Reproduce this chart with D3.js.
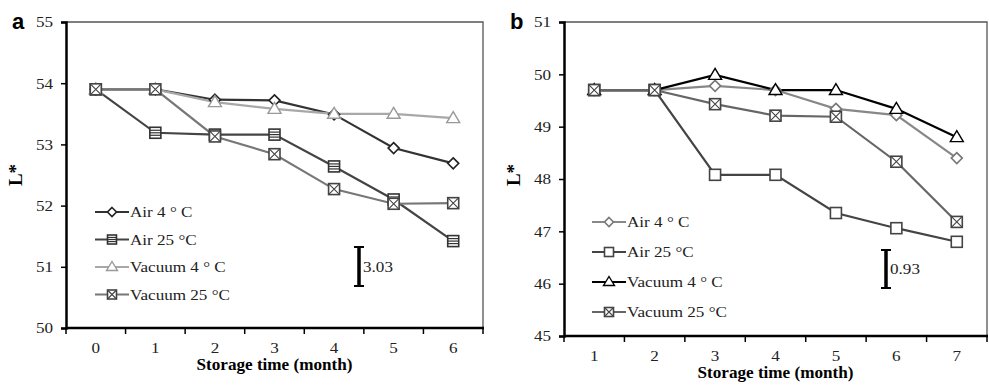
<!DOCTYPE html>
<html lang="en">
<head>
  <meta charset="utf-8">
  <title>L* vs storage time</title>
  <script src="https://d3js.org/d3.v7.min.js"></script>
  <style>
  body { margin: 0; background: #fff; }
  text { font-family: "Liberation Serif", "Times New Roman", serif; }
  text.letter { font-family: "Liberation Sans", Arial, sans-serif; }
  </style>
</head>
<body>
<script>
  // panel a: months 0..6
  var monthsA = ['0', '1', '2', '3', '4', '5', '6'];
  var air4A = [53.9, 53.9, 53.73, 53.72, 53.49, 52.94, 52.69];
  var air25A = [53.9, 53.19, 53.16, 53.16, 52.64, 52.1, 51.42];
  var vac4A = [53.9, 53.9, 53.69, 53.58, 53.5, 53.5, 53.43];
  var vac25A = [53.9, 53.9, 53.13, 52.84, 52.27, 52.03, 52.04];
  var yTicksA = [50, 51, 52, 53, 54, 55];

  // panel b: months 1..7
  var monthsB = ['1', '2', '3', '4', '5', '6', '7'];
  var air4B = [49.7, 49.7, 49.78, 49.7, 49.34, 49.22, 48.4];
  var air25B = [49.7, 49.7, 48.08, 48.08, 47.35, 47.06, 46.8];
  var vac4B = [49.7, 49.7, 49.99, 49.7, 49.7, 49.34, 48.8];
  var vac25B = [49.7, 49.7, 49.43, 49.21, 49.19, 48.33, 47.18];
  var yTicksB = [45, 46, 47, 48, 49, 50, 51];

  var seriesNames = ['Air 4 \u00b0 C', 'Air 25 \u00b0C', 'Vacuum 4 \u00b0 C', 'Vacuum 25 \u00b0C'];

  var svg = d3.select('body').append('svg')
    .attr('width', 989)
    .attr('height', 387);

  // the source figure is a little wider than tall, so widen the glyphs
  function stretch(sel, k) {
    sel.each(function() {
      var w = this.getComputedTextLength();
      d3.select(this).attr('textLength', w * k).attr('lengthAdjust', 'spacingAndGlyphs');
    });
  }

  // draws one marker of a given kind at 0,0 inside g
  function marker(g, kind, color, s) {
    if (kind == 'diamond') {
      g.append('path').attr('d', 'M0,' + (-s) + 'L' + s + ',0L0,' + s + 'L' + (-s) + ',0Z')
        .attr('fill', '#fff').attr('stroke', color).attr('stroke-width', 1.6);
    } else if (kind == 'triangle') {
      g.append('path').attr('d', 'M0,' + (-s - 1) + 'L' + (s + 1) + ',' + (s - 1) + 'L' + (-s - 1) + ',' + (s - 1) + 'Z')
        .attr('fill', '#fff').attr('stroke', color).attr('stroke-width', 1.4);
    } else {
      g.append('rect').attr('x', -s).attr('y', -s).attr('width', 2 * s).attr('height', 2 * s)
        .attr('fill', '#fff').attr('stroke', color).attr('stroke-width', 1.6);
      if (kind == 'lines') {
        [-s / 2.2, 0, s / 2.2].forEach(function(d) {
          g.append('line').attr('x1', -s).attr('x2', s).attr('y1', d).attr('y2', d)
            .attr('stroke', color).attr('stroke-width', 1.2);
        });
      } else if (kind == 'cross') {
        g.append('path').attr('d', 'M' + (-s) + ',' + (-s) + 'L' + s + ',' + s + 'M' + s + ',' + (-s) + 'L' + (-s) + ',' + s)
          .attr('stroke', color).attr('stroke-width', 1.1);
      }
    }
  }

  function drawPanel(p) {
    var x = d3.scaleBand().domain(p.months).range([p.left, p.right]);
    var y = d3.scaleLinear().domain([p.yTicks[0], p.yTicks[p.yTicks.length - 1]]).range([p.bottom, p.top]);
    var g = svg.append('g');

    // top and right frame
    g.append('path')
      .attr('d', 'M' + p.left + ',' + p.top + 'H' + p.right + 'V' + p.bottom)
      .attr('fill', 'none').attr('stroke', '#555').attr('stroke-width', 1.3);

    // y axis
    var yAxis = d3.axisLeft(y).tickValues(p.yTicks).tickSize(5).tickPadding(8).tickFormat(d3.format('d'));
    var ya = g.append('g').attr('transform', 'translate(' + p.left + ',0)').call(yAxis);
    ya.select('.domain').attr('stroke', '#000').attr('stroke-width', 2.5);
    ya.selectAll('.tick line').attr('stroke', '#000').attr('stroke-width', 1.5);
    ya.selectAll('.tick text').attr('font-size', 15).attr('fill', '#222').call(stretch, 1.14);

    // x axis: ticks sit on band edges, labels at band centres
    var xa = g.append('g').attr('transform', 'translate(0,' + p.bottom + ')');
    xa.append('line').attr('x1', p.left).attr('x2', p.right + 1)
      .attr('stroke', '#000').attr('stroke-width', 2.5);
    var edges = p.months.map(function(m) { return x(m); }).concat([p.right]);
    xa.selectAll('.xt').data(edges).enter().append('line')
      .attr('x1', function(d) { return d; }).attr('x2', function(d) { return d; })
      .attr('y1', 0).attr('y2', 6).attr('stroke', '#000').attr('stroke-width', 1.5);
    xa.selectAll('.xl').data(p.months).enter().append('text')
      .attr('x', function(d) { return x(d) + x.bandwidth() / 2; })
      .attr('y', 25).attr('text-anchor', 'middle').attr('font-size', 15).attr('fill', '#222')
      .text(function(d) { return d; })
      .call(stretch, 1.14);

    // titles
    g.append('text').attr('x', (p.left + p.right) / 2).attr('y', p.bottom + p.xTitleDy)
      .attr('text-anchor', 'middle').attr('font-size', 16).attr('font-weight', 'bold')
      .text('Storage time (month)')
      .call(stretch, 1.07);
    g.append('text').attr('transform', 'translate(' + (p.left - 44) + ',' + p.labelY + ') rotate(-90)')
      .attr('text-anchor', 'middle').attr('font-size', 19).attr('font-weight', 'bold')
      .text('L*');
    g.append('text').attr('class', 'letter').attr('x', p.left - 54).attr('y', p.top + 7)
      .attr('font-size', 22).attr('font-weight', 'bold')
      .text(p.letter);

    // series
    var line = d3.line()
      .x(function(d, i) { return x(p.months[i]) + x.bandwidth() / 2; })
      .y(function(d) { return y(d); });
    p.series.forEach(function(s) {
      g.append('path').datum(s.values).attr('d', line)
        .attr('fill', 'none').attr('stroke', s.color).attr('stroke-width', 2.2);
    });
    p.series.forEach(function(s) {
      s.values.forEach(function(v, i) {
        var m = g.append('g').attr('transform', 'translate(' + (x(p.months[i]) + x.bandwidth() / 2) + ',' + y(v) + ')');
        marker(m, s.kind, s.markColor, 5.5);
      });
    });

    // legend
    p.series.forEach(function(s, i) {
      var ly = p.legendY + i * p.legendStep;
      var lg = g.append('g');
      lg.append('line').attr('x1', p.legendX).attr('x2', p.legendX + 34).attr('y1', ly).attr('y2', ly)
        .attr('stroke', s.color).attr('stroke-width', 2.2);
      var m = lg.append('g').attr('transform', 'translate(' + (p.legendX + 17) + ',' + ly + ')');
      marker(m, s.kind, s.markColor, 4.5);
      lg.append('text').attr('x', p.legendX + 35).attr('y', ly + 5).attr('font-size', 15).attr('fill', '#222')
        .text(s.name)
        .call(stretch, 1.14);
    });

    // error bar
    var eb = g.append('g');
    eb.append('line').attr('x1', p.errX).attr('x2', p.errX).attr('y1', p.errY1).attr('y2', p.errY2)
      .attr('stroke', '#000').attr('stroke-width', 3.5);
    [p.errY1, p.errY2].forEach(function(d) {
      eb.append('line').attr('x1', p.errX - 5).attr('x2', p.errX + 5).attr('y1', d).attr('y2', d)
        .attr('stroke', '#000').attr('stroke-width', 2);
    });
    eb.append('text').attr('x', p.errX + 4).attr('y', (p.errY1 + p.errY2) / 2 + 5)
      .attr('font-size', 15).attr('fill', '#222').text(p.errLabel)
      .call(stretch, 1.14);
  }

  drawPanel({
    letter: 'a', months: monthsA, yTicks: yTicksA,
    left: 66, right: 483, top: 22, bottom: 328, xTitleDy: 42, labelY: 175,
    legendX: 95, legendY: 212, legendStep: 27.5,
    errX: 359, errY1: 247, errY2: 286, errLabel: '3.03',
    series: [
      { name: seriesNames[0], values: air4A, color: '#333', markColor: '#222', kind: 'diamond' },
      { name: seriesNames[1], values: air25A, color: '#444', markColor: '#333', kind: 'lines' },
      { name: seriesNames[2], values: vac4A, color: '#a8a8a8', markColor: '#999', kind: 'triangle' },
      { name: seriesNames[3], values: vac25A, color: '#777', markColor: '#444', kind: 'cross' }
    ]
  });

  drawPanel({
    letter: 'b', months: monthsB, yTicks: yTicksB,
    left: 564, right: 987, top: 22, bottom: 336, xTitleDy: 42, labelY: 175,
    legendX: 592, legendY: 222, legendStep: 30,
    errX: 886, errY1: 250, errY2: 288, errLabel: '0.93',
    series: [
      { name: seriesNames[0], values: air4B, color: '#888', markColor: '#777', kind: 'diamond' },
      { name: seriesNames[1], values: air25B, color: '#444', markColor: '#444', kind: 'square' },
      { name: seriesNames[2], values: vac4B, color: '#000', markColor: '#000', kind: 'triangle' },
      { name: seriesNames[3], values: vac25B, color: '#666', markColor: '#444', kind: 'cross' }
    ]
  });
</script>
</body>
</html>
